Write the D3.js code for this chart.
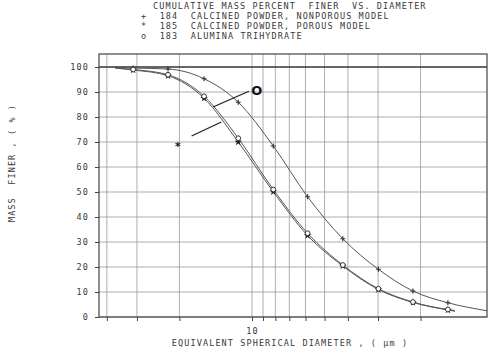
<!DOCTYPE html>
<html>
<head>
<meta charset="utf-8">
<script src="https://cdn.jsdelivr.net/npm/d3@7"></script>
<style>
  body { margin: 0; background: #fff; }
  text { font-family: "DejaVu Sans Mono", monospace; font-size: 8.5px; letter-spacing: 1.1px; fill: #3a3a3a; white-space: pre; }
</style>
</head>
<body>
<svg id="chart"></svg>
<script>
const width = 500
const height = 353
const margin = {top: 54, right: 13, bottom: 36, left: 99}

// data (diameter in um, cumulative mass % finer)
const diameters = [31.1, 22.3, 15.8, 11.4, 8.16, 5.88, 4.2, 2.99, 2.15, 1.54]
const finer184 = [99.6, 99.2, 95.3, 85.9, 68.4, 48.1, 31.3, 19.1, 10.4, 5.7]
const finer185 = [98.8, 96.5, 87.5, 70.0, 50.1, 32.6, 20.4, 11.0, 5.8, 2.8]
const finer183 = [99.0, 96.9, 88.3, 71.5, 51.0, 33.5, 20.8, 11.3, 6.0, 3.0]
// curve ends (first / last plotted diameter and value)
const startDiam = [37, 37, 37]
const startFiner = [99.9, 99.6, 99.7]
const endDiam = [1.06, 1.44, 1.44]
const endFiner = [2.5, 2.3, 2.6]

const seriesIds = ['184', '185', '183']
const seriesNames = ['CALCINED POWDER, NONPOROUS MODEL', 'CALCINED POWDER, POROUS MODEL', 'ALUMINA TRIHYDRATE']
const seriesSymbols = ['+', '*', 'o']
const titleText = 'CUMULATIVE MASS PERCENT  FINER  VS. DIAMETER'

const xGrid = [40, 30, 20, 10, 9, 8, 7, 6, 5, 4, 3, 2]
const xLabels = [10]
const yTicks = [0, 10, 20, 30, 40, 50, 60, 70, 80, 90, 100]

const svg = d3.select('#chart').attr('width', width).attr('height', height)

// reversed log axis: big diameters on the left
const x = d3.scaleLog().domain([43.1, 1.06]).range([margin.left, width - margin.right])
const y = d3.scaleLinear().domain([0, 105.2]).range([height - margin.bottom, margin.top])

// grid
svg.append('g').selectAll('line').data(xGrid).enter().append('line')
  .attr('x1', d => x(d)).attr('x2', d => x(d))
  .attr('y1', y(0)).attr('y2', margin.top)
  .attr('stroke', '#9a9a9a').attr('stroke-width', 0.8)
svg.append('g').selectAll('line').data(yTicks).enter().append('line')
  .attr('x1', margin.left).attr('x2', width - margin.right)
  .attr('y1', d => y(d)).attr('y2', d => y(d))
  .attr('stroke', d => d === 100 ? '#333' : '#9a9a9a')
  .attr('stroke-width', d => d === 100 ? 1.4 : 0.8)

// frame
svg.append('rect')
  .attr('x', margin.left).attr('y', margin.top)
  .attr('width', width - margin.left - margin.right)
  .attr('height', y(0) - margin.top)
  .attr('fill', 'none').attr('stroke', '#444').attr('stroke-width', 1.2)

// axes
const yAxis = d3.axisLeft(y).tickValues(yTicks).tickSize(4).tickPadding(6)
svg.append('g').attr('transform', `translate(${margin.left},0)`).call(yAxis)
  .call(g => g.select('.domain').remove())
const xAxis = d3.axisBottom(x).tickValues(xGrid).tickSize(4).tickPadding(7)
  .tickFormat(d => xLabels.includes(d) ? String(d) : '')
svg.append('g').attr('transform', `translate(0,${y(0)})`).call(xAxis)
  .call(g => g.select('.domain').remove())
svg.selectAll('.tick line').attr('stroke', '#444')
svg.selectAll('.tick text').attr('font-family', null).attr('font-size', null).attr('fill', null)

svg.append('text').attr('x', 290).attr('y', 346).attr('text-anchor', 'middle')
  .text('EQUIVALENT SPHERICAL DIAMETER , ( \u00b5m )')
svg.append('text').attr('transform', 'translate(15,163) rotate(-90)').attr('text-anchor', 'middle')
  .text('MASS  FINER , ( % )')

// title + legend
svg.append('text').attr('x', 153).attr('y', 9).text(titleText)
seriesIds.forEach((id, i) => {
  svg.append('text').attr('x', 141).attr('y', 19 + i * 10)
    .text(seriesSymbols[i] + '  ' + id + '  ' + seriesNames[i])
})

// curves
const allFiner = [finer184, finer185, finer183]
const line = d3.line().x(d => x(d[0])).y(d => y(d[1])).curve(d3.curveMonotoneX)
allFiner.forEach((vals, i) => {
  const pts = [[startDiam[i], startFiner[i]]]
    .concat(diameters.map((d, j) => [d, vals[j]]))
    .concat([[endDiam[i], endFiner[i]]])
  svg.append('path').datum(pts).attr('d', line)
    .attr('fill', 'none').attr('stroke', '#555').attr('stroke-width', 1)
})

// markers
const pts184 = diameters.map((d, j) => [d, finer184[j]])
svg.append('g').selectAll('path').data(pts184).enter().append('path')
  .attr('d', d => `M${x(d[0]) - 2.5},${y(d[1])}h5M${x(d[0])},${y(d[1]) - 2.5}v5`)
  .attr('stroke', '#333').attr('stroke-width', 1.2)
const pts185 = diameters.map((d, j) => [d, finer185[j]])
svg.append('g').selectAll('path').data(pts185).enter().append('path')
  .attr('transform', d => `translate(${x(d[0])},${y(d[1])})`)
  .attr('d', d3.symbol().type(d3.symbolStar).size(18))
  .attr('fill', '#222')
const pts183 = diameters.map((d, j) => [d, finer183[j]])
svg.append('g').selectAll('circle').data(pts183).enter().append('circle')
  .attr('cx', d => x(d[0])).attr('cy', d => y(d[1])).attr('r', 2.4)
  .attr('fill', '#fff').attr('stroke', '#333').attr('stroke-width', 1)

// annotations pointing at the two close curves
const noteO = {label: [9.55, 90.8], from: [10.3, 90.3], to: [14.5, 84.0]}
const noteStar = {label: [20.3, 68.8], from: [17.8, 72.4], to: [13.4, 78.0]}
svg.append('line').attr('x1', x(noteO.from[0])).attr('y1', y(noteO.from[1]))
  .attr('x2', x(noteO.to[0])).attr('y2', y(noteO.to[1])).attr('stroke', '#222').attr('stroke-width', 1.3)
svg.append('line').attr('x1', x(noteStar.from[0])).attr('y1', y(noteStar.from[1]))
  .attr('x2', x(noteStar.to[0])).attr('y2', y(noteStar.to[1])).attr('stroke', '#222').attr('stroke-width', 1.3)
svg.append('text').attr('x', x(noteO.label[0])).attr('y', y(noteO.label[1]) + 4.5)
  .attr('text-anchor', 'middle').style('font-family', 'DejaVu Sans').style('font-size', '13px')
  .style('font-weight', 'bold').style('letter-spacing', '0px').style('fill', '#111').text('O')
svg.append('text').attr('x', x(noteStar.label[0])).attr('y', y(noteStar.label[1]) + 5)
  .attr('text-anchor', 'middle').style('font-size', '11px').style('font-weight', 'bold')
  .style('letter-spacing', '0px').style('fill', '#111').text('*')
</script>
</body>
</html>
